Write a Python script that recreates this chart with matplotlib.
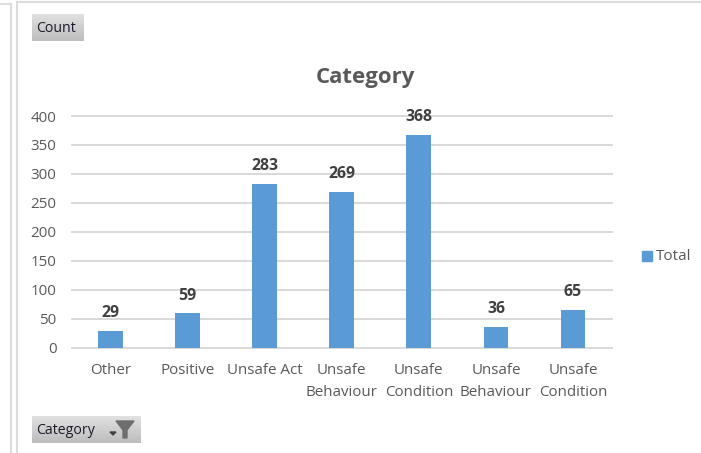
import numpy as np
import matplotlib
matplotlib.use('Agg')
import matplotlib.pyplot as plt
from matplotlib.lines import Line2D
from matplotlib.patches import Polygon

categories = ['Other', 'Positive', 'Unsafe Act', 'Unsafe\nBehaviour', 'Unsafe\nCondition',
              'Unsafe\nBehaviour', 'Unsafe\nCondition']
totals = [29, 59, 283, 269, 368, 36, 65]
y_ticks = [0, 50, 100, 150, 200, 250, 300, 350, 400]

W, H = 701, 453
BLUE = '#5B9BD5'
GREY = '#595959'
plt.rcParams['font.family'] = ['Open Sans', 'DejaVu Sans']


def px_axes(fig, x0, y0, x1, y1):
    # pixel box measured from top left
    return fig.add_axes([x0 / W, 1 - y1 / H, (x1 - x0) / W, (y1 - y0) / H])


def button(fig, x0, y0, x1, y1, label):
    b = px_axes(fig, x0, y0, x1, y1)
    grad = np.linspace(0.88, 0.74, 30).reshape(-1, 1)
    b.imshow(grad, cmap='gray', vmin=0, vmax=1, aspect='auto', extent=(0, x1 - x0, y1 - y0, 0))
    b.text(4, (y1 - y0) / 2 + 1.5, label, fontsize=10.2, color='#1a1a2a', va='center', ha='left')
    b.axis('off')
    return b


fig = plt.figure(figsize=(W / 100, H / 100), dpi=100, facecolor='white')
ax = px_axes(fig, 72, 116, 611.5, 347.5)

x = np.arange(len(categories))
ax.bar(x, totals, width=0.32, color=BLUE, zorder=3)
ax.set_xlim(-0.5, len(categories) - 0.5)
ax.set_ylim(0, 400)
ax.set_yticks(y_ticks)
ax.set_xticks(x)
ax.set_xticklabels(categories, linespacing=1.65)
ax.tick_params(axis='both', length=0, colors=GREY, labelsize=10.9)
ax.tick_params(axis='y', pad=11)
ax.tick_params(axis='x', pad=11)
ax.grid(axis='y', color='#D9D9D9', linewidth=1.4, zorder=0, clip_on=False)
ax.set_axisbelow(True)
for s in ax.spines.values():
    s.set_visible(False)
ax.patch.set_alpha(0)

for xi, v in zip(x, totals):
    ax.annotate(str(v), (xi, v), xytext=(0, 7), textcoords='offset points', ha='center', va='bottom',
                fontsize=11.4, fontweight='bold', color='#404040', annotation_clip=False)

fig.text(365.5 / W, 1 - 77 / H, 'Category', fontsize=16, fontweight='bold', color=GREY, ha='center', va='center')

# legend
fig.patches.append(plt.Rectangle((642 / W, 1 - 261 / H), 10 / W, 10 / H, transform=fig.transFigure, color=BLUE, figure=fig))
fig.text(656 / W, 1 - 257 / H, 'Total', fontsize=11, color=GREY, ha='left', va='center')

# pivot chart field buttons
button(fig, 32, 14, 84, 41, 'Count')
b = button(fig, 32, 416, 141, 443, 'Category')
b.add_patch(Polygon([(84, 5), (102, 5), (95, 14), (95, 22), (91, 22), (91, 14)], color='#6E6E6E'))
b.add_patch(Polygon([(78, 16), (84, 16), (81, 19)], color='#404040'))
b.set_xlim(0, 109)
b.set_ylim(27, 0)

# worksheet frame lines
for xs, ys in [((11, 11), (4, 453)), ((17, 17), (2, 453)), ((17, 701), (2, 2)), ((0, 11), (4, 4))]:
    fig.add_artist(Line2D([v / W for v in xs], [1 - v / H for v in ys], color='#DCDCDC', linewidth=1.5))

fig.savefig('out.png', dpi=100)
